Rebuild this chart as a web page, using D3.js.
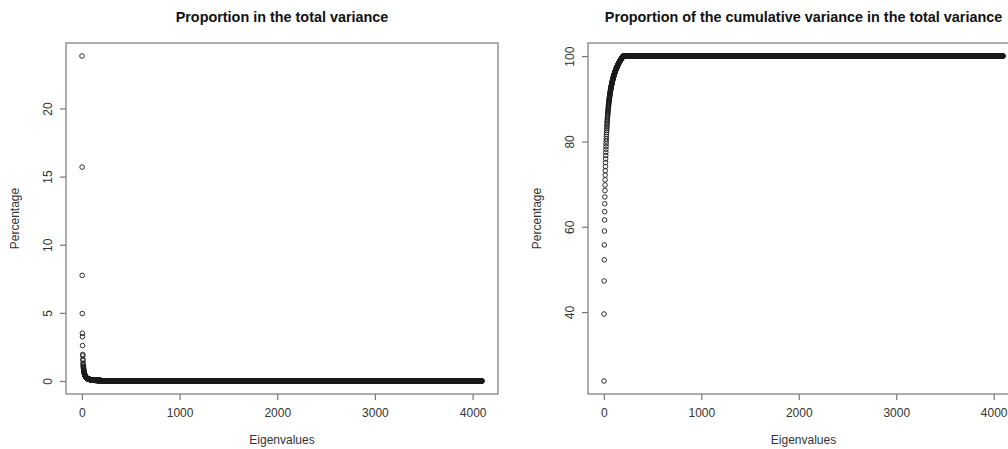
<!DOCTYPE html>
<meta charset="utf-8">
<title>Proportion of variance</title>
<head>
  <script src="https://d3js.org/d3.v7.min.js"></script>
  <style>
    body { margin: 0; background: #fff; }
    text { font-family: "Liberation Sans", Arial, sans-serif; }
  </style>
</head>
<body>
  <div id="chart"></div>
</body>
<script>
// share of each eigenvalue in the total variance (%)
var leadingPercent = [
  23.85, 15.70, 7.75, 4.95, 3.50, 3.25, 2.60, 1.95, 1.85, 1.60,
  1.50, 1.30, 1.20, 1.10, 1.05, 0.98, 0.92, 0.86, 0.80, 0.75,
  0.712, 0.667, 0.627, 0.590, 0.558, 0.528, 0.501, 0.476, 0.453, 0.432,
  0.413, 0.395, 0.379, 0.363, 0.348, 0.335, 0.322, 0.310, 0.299, 0.289,
  0.280, 0.271, 0.262, 0.254, 0.245, 0.238, 0.231, 0.224, 0.218, 0.211,
  0.206, 0.200, 0.195, 0.190, 0.185, 0.181, 0.176, 0.172, 0.168, 0.164,
  0.160, 0.157, 0.153, 0.150, 0.147, 0.144, 0.141, 0.138, 0.135, 0.132,
  0.130, 0.127, 0.125, 0.122, 0.120, 0.118, 0.116, 0.114, 0.112, 0.110,
  0.108, 0.106, 0.104, 0.103, 0.101, 0.099, 0.098, 0.096, 0.094, 0.093,
  0.092, 0.090, 0.089, 0.088, 0.086, 0.085, 0.084, 0.083, 0.081, 0.080,
  0.079, 0.078, 0.077, 0.076, 0.075, 0.074, 0.073, 0.072, 0.071, 0.070,
  0.069, 0.068, 0.067, 0.067, 0.066, 0.065, 0.064, 0.063, 0.063, 0.062,
  0.061, 0.061, 0.060, 0.059, 0.059, 0.058, 0.057, 0.057, 0.056, 0.056,
  0.055, 0.054, 0.054, 0.053, 0.053, 0.052, 0.052, 0.051, 0.051, 0.050,
  0.050, 0.049, 0.049, 0.048, 0.048, 0.047, 0.047, 0.046, 0.046, 0.045,
  0.045, 0.045, 0.044, 0.044, 0.043, 0.043, 0.043, 0.042, 0.042, 0.041,
  0.041, 0.041, 0.040, 0.040, 0.040, 0.039, 0.039, 0.039, 0.038, 0.038,
  0.038, 0.037, 0.037, 0.037, 0.036, 0.036, 0.036, 0.035, 0.035, 0.035,
  0.035, 0.034, 0.034, 0.034, 0.034, 0.033, 0.033, 0.033, 0.033, 0.032,
  0.032, 0.032, 0.032, 0.031, 0.031, 0.031, 0.031, 0.030, 0.030
];
// number of eigenvalues; the ones after the leading list are 0
var nEigen = 4096;

var xTicks = [0, 1000, 2000, 3000, 4000];
var yTicksLeft = [0, 5, 10, 15, 20];
var yTicksRight = [40, 60, 80, 100];
var titles = ["Proportion in the total variance",
              "Proportion of the cumulative variance in the total variance"];
var xLabel = "Eigenvalues";
var yLabel = "Percentage";

var percent = [];
for (var i = 0; i < nEigen; ++i) {
  percent.push(i < leadingPercent.length ? leadingPercent[i] : 0);
}
var cumPercent = Array.from(d3.cumsum(percent));

var W = 1008, H = 449;
var boxTop = 43, boxBottom = 394;
var panels = [
  {x0: 66, x1: 498, values: percent, ticks: yTicksLeft, title: titles[0]},
  {x0: 588, x1: 1019, values: cumPercent, ticks: yTicksRight, title: titles[1]}
];

// R style 4% padding of the data range
function pad(ext) {
  var d = ext[1] - ext[0];
  return [ext[0] - 0.04 * d, ext[1] + 0.04 * d];
}

var svg = d3.select("#chart")
  .append("svg")
    .attr("width", W)
    .attr("height", H);

panels.forEach(function(p) {
  var x = d3.scaleLinear()
      .domain(pad([1, nEigen]))
      .range([p.x0, p.x1]);
  var y = d3.scaleLinear()
      .domain(pad(d3.extent(p.values)))
      .range([boxBottom, boxTop]);

  var g = svg.append("g");

  // points
  g.append("g")
    .selectAll("circle")
    .data(p.values)
    .enter()
    .append("circle")
      .attr("cx", function(d, i) { return x(i + 1); })
      .attr("cy", function(d) { return y(d); })
      .attr("r", 2.3)
      .style("fill", "none")
      .style("stroke", "#1a1a1a")
      .style("stroke-width", 0.9);

  // box
  g.append("rect")
    .attr("x", p.x0)
    .attr("y", boxTop)
    .attr("width", p.x1 - p.x0)
    .attr("height", boxBottom - boxTop)
    .style("fill", "none")
    .style("stroke", "#777")
    .style("stroke-width", 1.2);

  // x axis
  var xa = g.append("g")
    .attr("transform", "translate(0," + boxBottom + ")")
    .call(d3.axisBottom(x).tickValues(xTicks).tickFormat(d3.format("d"))
      .tickSize(6).tickPadding(8).tickSizeOuter(0));
  xa.select(".domain").remove();
  xa.selectAll("line").style("stroke", "#777").style("stroke-width", 1.2);
  xa.selectAll("text")
    .style("font-size", "12px")
    .style("font-family", "Liberation Sans, Arial, sans-serif")
    .style("fill", "#333");

  // y axis, labels parallel to the axis
  var ya = g.append("g")
    .attr("transform", "translate(" + p.x0 + ",0)")
    .call(d3.axisLeft(y).tickValues(p.ticks).tickFormat(d3.format("d"))
      .tickSize(6).tickSizeOuter(0));
  ya.select(".domain").remove();
  ya.selectAll("line").style("stroke", "#777").style("stroke-width", 1.2);
  ya.selectAll("text")
    .attr("x", null)
    .attr("dy", null)
    .attr("transform", "translate(-14,0) rotate(-90)")
    .style("text-anchor", "middle")
    .style("font-size", "12px")
    .style("font-family", "Liberation Sans, Arial, sans-serif")
    .style("fill", "#333");

  var cx = (p.x0 + p.x1) / 2;
  var cy = (boxTop + boxBottom) / 2;

  g.append("text")
    .attr("x", cx)
    .attr("y", 22)
    .attr("text-anchor", "middle")
    .style("font-size", "14.4px")
    .style("font-weight", "bold")
    .style("fill", "#111")
    .text(p.title);

  g.append("text")
    .attr("x", cx)
    .attr("y", 444)
    .attr("text-anchor", "middle")
    .style("font-size", "12px")
    .style("fill", "#333")
    .text(xLabel);

  g.append("text")
    .attr("transform", "translate(" + (p.x0 - 47) + "," + cy + ") rotate(-90)")
    .attr("text-anchor", "middle")
    .style("font-size", "12px")
    .style("fill", "#333")
    .text(yLabel);
});
</script>
